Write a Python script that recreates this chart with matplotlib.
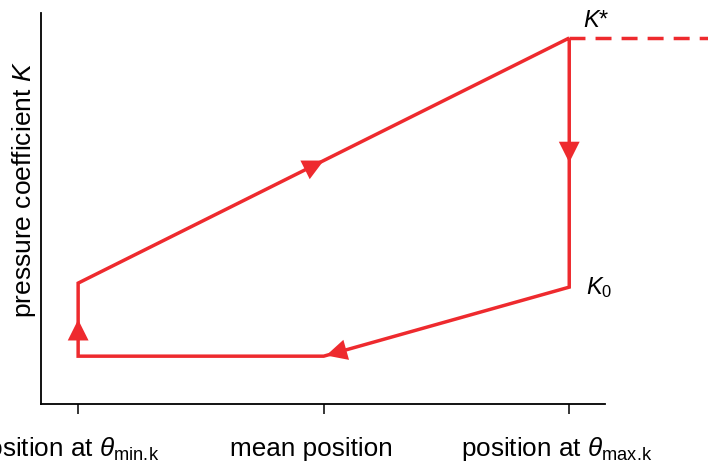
import numpy as np
import matplotlib
matplotlib.use('Agg')
import matplotlib.pyplot as plt

plt.rcParams['font.family'] = ['Liberation Sans', 'DejaVu Sans']
plt.rcParams['mathtext.fontset'] = 'custom'
plt.rcParams['mathtext.rm'] = 'Liberation Sans'
plt.rcParams['mathtext.it'] = 'Liberation Sans:italic'

RED = '#ee2a2e'

# Positions along x: theta_min, mean, theta_max
positions = [0, 1, 2]
tick_labels = [r'position at $\theta_{\mathrm{min.\!k}}$', 'mean position',
               r'position at $\theta_{\mathrm{max.\!k}}$']

# Pressure coefficient levels
k_star = 3.66
k_zero = 1.17
k_low = 0.48
k_start = 1.21

# Closed loop: K* -> K0 -> mean -> theta_min -> back up to K*
loop_x = [2, 2, 1, 0, 0, 2]
loop_y = [k_star, k_zero, k_low, k_low, k_start, k_star]

fig = plt.figure(figsize=(7.08, 4.63), dpi=100)
ax = fig.add_axes([0.058, 0.127, 0.797, 0.845])

ax.plot(loop_x, loop_y, color=RED, lw=2.5, solid_joinstyle='miter',
        solid_capstyle='butt', zorder=3)

# Dashed continuation past K*
ax.plot([2, 2.6], [k_star, k_star], color=RED, lw=2.5, dashes=(4.6, 2.9),
        clip_on=False, zorder=3)


def head(seg, frac, back=0.15):
    """Arrowhead on loop segment `seg`, tip placed at fraction `frac`."""
    x0, y0 = loop_x[seg], loop_y[seg]
    x1, y1 = loop_x[seg + 1], loop_y[seg + 1]
    tx, ty = x0 + frac * (x1 - x0), y0 + frac * (y1 - y0)
    bx, by = x0 + (frac - back) * (x1 - x0), y0 + (frac - back) * (y1 - y0)
    ax.annotate('', xy=(tx, ty), xytext=(bx, by),
                arrowprops=dict(arrowstyle='-|>,head_length=1.0,head_width=0.5',
                                mutation_scale=15, color=RED, lw=0,
                                shrinkA=0, shrinkB=0), zorder=4)


head(0, 0.5)
head(1, 0.99)
head(3, 0.5, back=0.4)
head(4, 0.5)

ax.annotate(r'$K$*', xy=(2, k_star), xytext=(10, 4), textcoords='offset points',
            fontsize=17, ha='left', va='bottom')
ax.annotate(r'$K_0$', xy=(2, k_zero), xytext=(12, 0), textcoords='offset points',
            fontsize=17, ha='left', va='center')

ax.set_xlim(-0.151, 2.147)
ax.set_ylim(0, 3.91)
ax.set_xticks(positions)
ax.set_xticklabels([])
ax.set_yticks([])

# tick labels on a shared baseline, set a little left of their ticks
for pos, lab in zip(positions, tick_labels):
    ax.annotate(lab, xy=(pos, 0), xycoords=('data', 'axes fraction'),
                xytext=(-8.6, -37.4), textcoords='offset points',
                ha='center', va='baseline', fontsize=18.8, annotation_clip=False)

ax.set_ylabel(r'pressure coefficient $K$', fontsize=19)
ax.yaxis.set_label_coords(-0.005, 0.547)

ax.spines['top'].set_visible(False)
ax.spines['right'].set_visible(False)
for side in ['left', 'bottom']:
    ax.spines[side].set_linewidth(1.3)
ax.tick_params(axis='x', direction='out', length=7, width=1.1)

fig.savefig('out.png', dpi=100)
